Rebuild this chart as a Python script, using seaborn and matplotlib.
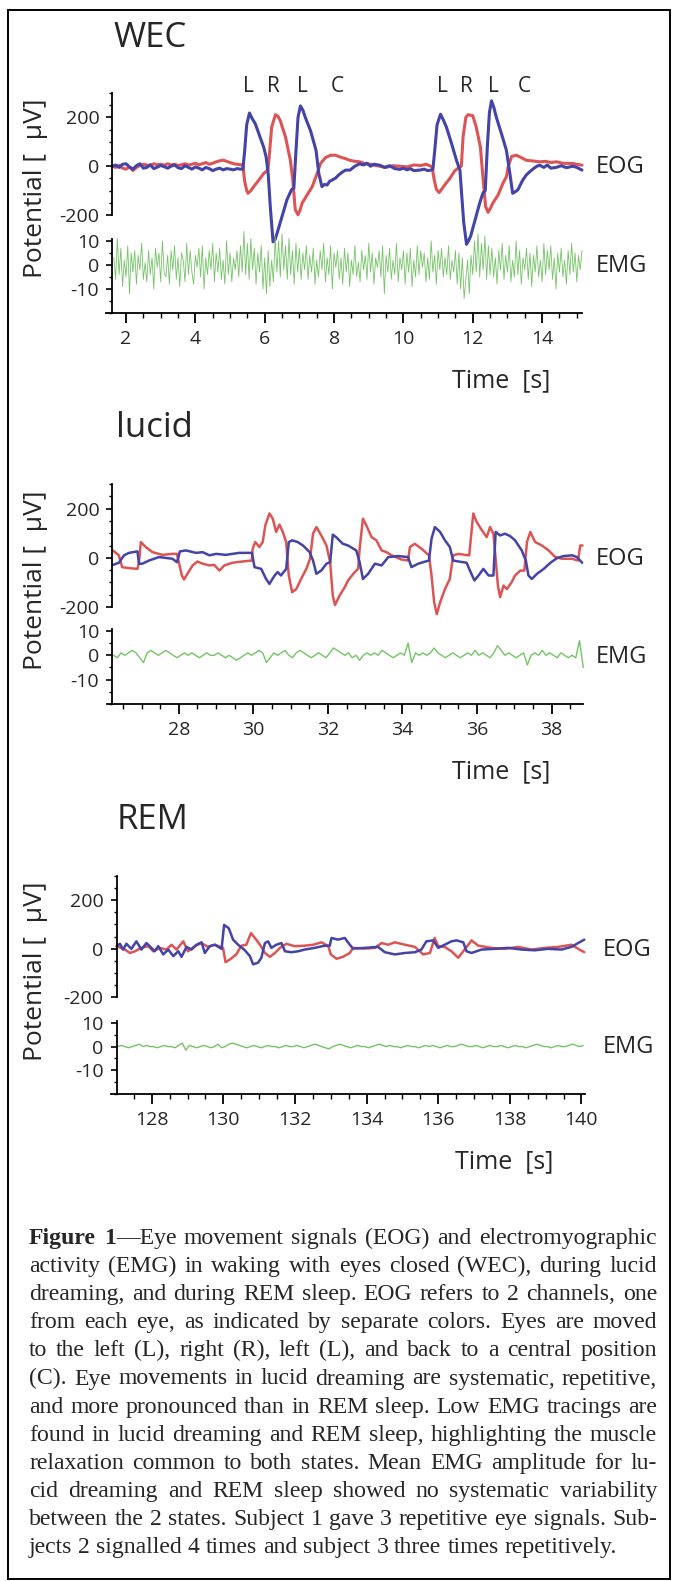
import matplotlib
matplotlib.use("Agg")
import matplotlib.pyplot as plt
from matplotlib.patches import Rectangle
from matplotlib.ticker import MultipleLocator, FixedLocator
import numpy as np
import seaborn as sns

sns.set_style("ticks")
plt.rcParams["font.family"] = ["Open Sans", "DejaVu Sans"]
plt.rcParams["axes.unicode_minus"] = False

RED = "#de5454"
BLUE = "#4343a8"
GREEN = "#74c465"

# ---- WEC (waking, eyes closed): EOG (time s, potential uV) ----
wec_red = [(1.62, 0), (1.7, -5), (1.8, 3), (1.9, -8), (2.0, -12), (2.1, -3), (2.2, -18), (2.3, -5),
           (2.4, 3), (2.5, 8), (2.6, 5), (2.7, 2), (2.8, 10), (2.9, 6), (3.0, 8), (3.1, 4), (3.2, 10),
           (3.3, 5), (3.4, 8), (3.5, 3), (3.6, 6), (3.7, 10), (3.8, 5), (3.9, 8), (4.0, 12), (4.1, 6),
           (4.2, 10), (4.3, 15), (4.4, 8), (4.5, 12), (4.6, 18), (4.7, 22), (4.8, 25), (4.9, 20),
           (5.0, 15), (5.1, 10), (5.2, 8), (5.3, 6),
           (5.37, 5), (5.42, -60), (5.48, -100), (5.52, -111), (5.6, -100), (5.68, -84), (5.83, -57),
           (5.97, -30), (6.09, -16), (6.13, 40), (6.2, 160), (6.31, 211), (6.38, 205), (6.45, 186),
           (6.6, 119), (6.74, 24), (6.81, -57), (6.88, -178), (6.96, -199), (7.02, -180), (7.08, -151),
           (7.22, -118), (7.37, -84), (7.51, -30), (7.61, 11), (7.75, 35), (7.9, 45), (8.04, 45),
           (8.17, 38), (8.33, 31), (8.46, 24), (8.6, 20), (8.74, 18), (8.9, 10), (9.05, 8), (9.2, 3),
           (9.32, 0), (9.5, -5), (9.7, 2), (9.9, 0), (10.1, -3), (10.3, 5), (10.5, 3), (10.66, 8),
           (10.83, -3), (10.88, -50), (10.95, -95), (11.03, -108), (11.1, -95), (11.19, -77),
           (11.34, -50), (11.48, -19), (11.57, -9), (11.67, 0), (11.72, 120), (11.8, 200), (11.86, 211),
           (12.0, 207), (12.1, 160), (12.22, 78), (12.3, -57), (12.37, -165), (12.44, -189), (12.5, -175),
           (12.58, -151), (12.73, -118), (12.87, -70), (12.97, -43), (13.02, -3), (13.12, 40),
           (13.26, 45), (13.4, 35), (13.55, 24), (13.7, 22), (13.93, 18), (14.1, 20), (14.25, 15),
           (14.41, 18), (14.6, 12), (14.89, 11), (15.0, 8), (15.15, 4)]
wec_blue = [(1.62, 0), (1.7, 5), (1.8, -5), (1.9, 8), (2.0, 10), (2.1, -3), (2.2, -12), (2.3, 2),
            (2.4, 10), (2.5, -8), (2.6, -5), (2.7, 6), (2.8, -10), (2.9, -4), (3.0, 3), (3.1, -2),
            (3.2, -8), (3.3, 0), (3.4, 5), (3.5, -6), (3.6, -10), (3.7, 2), (3.8, -5), (3.9, -12),
            (4.0, -3), (4.1, -8), (4.2, -15), (4.3, -5), (4.4, -10), (4.5, -18), (4.6, -12), (4.7, -8),
            (4.8, -15), (4.9, -10), (5.0, -12), (5.1, -15), (5.2, -10), (5.3, -12),
            (5.37, -12), (5.42, 60), (5.48, 170), (5.56, 218), (5.64, 195), (5.73, 173), (5.85, 126),
            (5.97, 78), (6.04, 38), (6.1, -30), (6.16, -165), (6.24, -310), (6.3, -300), (6.36, -273),
            (6.5, -205), (6.64, -138), (6.77, -97), (6.84, -90), (6.9, 60), (6.96, 200), (7.03, 247),
            (7.1, 230), (7.17, 200), (7.32, 146), (7.48, 65), (7.56, -30), (7.65, -84), (7.72, -75),
            (7.8, -77), (7.87, -62), (7.94, -57), (8.05, -48), (8.13, -36), (8.23, -25), (8.33, -16),
            (8.46, -16), (8.6, 0), (8.74, 10), (8.85, 5), (8.95, 12), (9.05, 0), (9.15, 8), (9.32, 4),
            (9.45, -5), (9.6, 2), (9.75, -10), (9.9, -13), (10.0, -8), (10.1, -15), (10.2, -10),
            (10.3, -18), (10.47, -16), (10.6, -12), (10.7, -18), (10.8, -16), (10.85, -12), (10.9, 60),
            (10.97, 170), (11.07, 213), (11.15, 190), (11.24, 160), (11.39, 92), (11.53, 24),
            (11.63, -16), (11.67, -97), (11.74, -232), (11.82, -320), (11.88, -305), (11.94, -286),
            (12.07, -219), (12.2, -151), (12.29, -111), (12.36, -100), (12.42, 80), (12.48, 220),
            (12.54, 268), (12.61, 240), (12.68, 200), (12.83, 132), (12.97, 65), (13.07, -30),
            (13.15, -111), (13.22, -105), (13.3, -97), (13.44, -57), (13.55, -35), (13.64, -23),
            (13.75, -10), (13.85, 0), (13.93, 4), (14.05, -5), (14.15, 5), (14.25, -8), (14.41, -5),
            (14.55, 2), (14.7, -6), (14.89, 0), (15.0, -5), (15.15, -16)]
# EMG samples every 0.05 s from 1.65 s
wec_emg = [3, -6, 11, -4, 7, -9, 2, -5, 8, -12, 5, -3, 6, -8, 4, -2, 9, -6, 1, -7,
           6, -4, 3, -10, 7, -1, 5, -7, 10, -3, -5, 4, -8, 6, -2, 8, -6, 3, -9, 5,
           2, -7, 9, -4, 6, -3, -8, 4, -1, 7, -5, 8, -10, 3, -4, 6, -2, 9, -7, 5,
           -3, 7, -6, 2, -8, 10, -4, 5, -7, 3, -2, 6, -5, 8, -3,
           14, -4, 9, -6, 11, -2, 7, -8, 5, -3, 8, -10, 3, -12, 6, -9, 2, -7, 12, -3,
           10, -5, 13, -2, 8, -6, 11, -4, 6, -8, 9, -3, 7, -6, 5, -2, 8,
           -6, 4, -3, 7, -8, 2, -5, 6, -2, 9, -7, 3, -4, 8, -10, 5, -1, 6, -6, 3,
           -8, 7, -3, 5, -9, 2, -4, 8, -5, 1, -7, 6, -2, 4, -6, 9, -3, 5, -8, 3,
           -1, 6, -5, 8, -12, 4, -3, 7, -6, 2, -4, 9, -7, 3, -2, 6, -8, 5, -3, 7,
           -9, 2, -5, 8, -4, 6, -1, 5, -7, 3, -6, 10, -3, 4, -8, 6, -2, 7, -5, 3,
           -4, 8, -6, 2, -3, 6,
           -8, 5, -10, 3, -14, -6, 2, -12, 4, -4, 10, -3, 13, -5, 9, -2, 12, -6, 8, -4,
           7, -5, 3, -8, 6, -2, 9, -6, 4, -3, 8, -7, 2, -5, 10, -4, 6, -8, 3, -2,
           7, -6, 5, -9, 4, -3, 8, -5, 2, -7, 9, -4, 6, -2, 8, -6, 3, -10, 5, -3,
           7, -5, 2, -8, 6, -4, 9, -3, 5, -7, 4, -2, 6]

# ---- lucid dreaming ----
lucid_red = [(26.23, 30), (26.39, 10), (26.48, -38), (26.66, -42), (26.89, -45), (26.93, -18), (26.98, 64),
             (27.11, 44), (27.29, 23), (27.56, 12), (27.83, 16), (27.95, 16), (28.0, -18), (28.08, -72),
             (28.14, -88), (28.23, -65), (28.37, -31), (28.5, -15), (28.64, -24), (28.82, -31), (28.95, -29),
             (29.09, -52), (29.22, -31), (29.44, -20), (29.71, -15), (29.96, -11), (29.98, 37), (30.05, 64),
             (30.16, 44), (30.25, 64), (30.32, 132), (30.43, 180), (30.52, 159), (30.61, 105), (30.7, 135),
             (30.79, 105), (30.88, 64), (30.95, -72), (31.04, -140), (31.15, -127), (31.28, -86),
             (31.42, -45), (31.52, -4), (31.6, 98), (31.69, 125), (31.82, 91), (31.96, 50), (32.06, -18),
             (32.13, -154), (32.19, -192), (32.31, -154), (32.45, -120), (32.54, -92), (32.72, -58),
             (32.81, -45), (32.85, 37), (32.94, 159), (33.03, 132), (33.17, 84), (33.3, 71), (33.44, 30),
             (33.57, 23), (33.71, 10), (33.97, -7), (34.15, -11), (34.2, 44), (34.33, 57), (34.51, 37),
             (34.71, 10), (34.78, -72), (34.85, -181), (34.92, -229), (35.01, -181), (35.14, -127),
             (35.27, -86), (35.36, 10), (35.5, 16), (35.68, 12), (35.79, 10), (35.86, 118), (35.9, 180),
             (35.99, 146), (36.13, 112), (36.26, 84), (36.35, 125), (36.44, 98), (36.5, -4), (36.56, -113),
             (36.62, -160), (36.71, -113), (36.8, -127), (36.93, -99), (37.02, -72), (37.16, -52),
             (37.27, -52), (37.34, 64), (37.43, 105), (37.56, 64), (37.74, 50), (37.92, 30), (38.1, 3),
             (38.28, -4), (38.55, -4), (38.71, -11), (38.77, 50), (38.83, 50)]
lucid_blue = [(26.23, -29), (26.39, -20), (26.53, 10), (26.66, 20), (26.89, 26), (26.93, -24), (27.02, -24),
              (27.2, -11), (27.47, 3), (27.83, -4), (27.95, -18), (28.03, 26), (28.19, 30), (28.46, 20),
              (28.64, 23), (28.82, 10), (29.0, 16), (29.26, 12), (29.62, 20), (29.96, 20), (30.03, -38),
              (30.21, -45), (30.34, -86), (30.43, -106), (30.57, -72), (30.65, -58), (30.74, -72),
              (30.88, -45), (30.95, 64), (31.04, 71), (31.19, 64), (31.33, 50), (31.51, 23), (31.6, -11),
              (31.69, -65), (31.82, -52), (31.96, -24), (32.06, -18), (32.13, 94), (32.22, 84), (32.4, 57),
              (32.54, 50), (32.76, 30), (32.85, -18), (32.94, -86), (33.08, -65), (33.26, -24), (33.44, -31),
              (33.62, 3), (33.88, 7), (34.15, 3), (34.24, -38), (34.42, -24), (34.71, -11), (34.78, 78),
              (34.87, 125), (35.01, 105), (35.14, 71), (35.27, 44), (35.36, -11), (35.5, -15), (35.72, -20),
              (35.81, -52), (35.93, -92), (36.04, -72), (36.17, -45), (36.31, -72), (36.44, -72),
              (36.5, 105), (36.62, 91), (36.75, 98), (36.89, 88), (37.02, 71), (37.2, 30), (37.31, -11),
              (37.38, -72), (37.47, -86), (37.61, -65), (37.79, -45), (37.97, -20), (38.15, -1), (38.32, 7),
              (38.55, 10), (38.68, 3), (38.82, -20)]
# EMG samples every 0.1 s from 26.25 s
lucid_emg = [0, -1, 1, 0, 1, 2, 1, -1, -3, 1, 2, 1, 0, 1, 2, 1, 0, -1, 0, 1,
             0, 1, 0, -1, 0, 1, 0, 0, 1, 0, -1, 0, -1, -2, -1, 0, 1, 0, 1, 2,
             1, -3, -1, 1, 0, 1, 2, 0, -1, 1, 2, 1, 0, -1, 0, 1, 0, -1, 1, 3,
             2, 1, 0, 1, -1, 0, -2, 0, 1, 0, 1, 0, 2, 1, 0, -1, 0, 1, 0, 5,
             -3, 1, 0, 1, 0, 1, 3, 1, 0, -1, 0, 1, 0, -1, 0, 1, 0, 2, 0, 1,
             0, -1, 1, 4, 2, 0, 1, 0, -1, 0, 1, -4, 0, 1, 0, 2, 0, 1, 0, -1,
             1, 0, -1, 0, -1, 6, -5]

# ---- REM sleep ----
rem_red = [(127.02, 10), (127.25, -4), (127.39, -18), (127.53, -11), (127.71, 3), (127.9, 10), (128.04, -11),
           (128.22, 3), (128.41, -4), (128.55, 16), (128.69, -4), (128.88, 30), (129.01, -11), (129.2, 10),
           (129.39, 23), (129.57, 7), (129.76, 16), (129.99, 3), (130.06, -56), (130.18, -45), (130.36, -24),
           (130.5, 12), (130.64, 16), (130.77, 64), (130.88, 44), (131.02, 16), (131.16, -18), (131.3, -34),
           (131.44, -18), (131.58, 3), (131.76, 20), (131.99, 10), (132.27, 12), (132.51, 16), (132.74, 26),
           (132.93, 10), (133.0, -24), (133.16, -42), (133.34, -34), (133.53, -18), (133.62, 3), (133.95, 0),
           (134.23, 3), (134.42, 23), (134.6, 16), (134.79, 26), (135.07, 16), (135.35, 7), (135.58, -24),
           (135.77, -18), (135.9, 44), (136.0, 10), (136.18, 7), (136.37, -11), (136.56, -38), (136.7, -11),
           (136.84, 16), (136.93, 34), (137.12, 12), (137.49, 3), (137.86, -1), (138.23, 7), (138.61, -4),
           (138.98, 3), (139.35, 7), (139.72, 16), (139.91, -1), (140.08, -15)]
rem_blue = [(127.02, 10), (127.11, 20), (127.2, -4), (127.29, 20), (127.43, -1), (127.57, 30), (127.71, -4),
            (127.85, 23), (127.99, 3), (128.08, -11), (128.18, 10), (128.32, -24), (128.46, -4), (128.6, -31),
            (128.74, -11), (128.83, -34), (128.97, 7), (129.11, -4), (129.25, 16), (129.39, 26), (129.48, -18),
            (129.62, 10), (129.76, 16), (129.95, -1), (130.02, 98), (130.15, 84), (130.27, 37), (130.41, 16),
            (130.58, -4), (130.74, -31), (130.83, -65), (130.97, -58), (131.06, -38), (131.16, 23),
            (131.25, 30), (131.34, 3), (131.48, 16), (131.62, 23), (131.72, -11), (131.9, -15), (132.09, -11),
            (132.27, -4), (132.55, 3), (132.83, 12), (132.97, 12), (133.02, 44), (133.2, 37), (133.39, 44),
            (133.53, 16), (133.62, 0), (133.95, 3), (134.32, 7), (134.51, -15), (134.79, -24), (135.07, -18),
            (135.35, -15), (135.53, -4), (135.67, 30), (135.86, 34), (136.0, 3), (136.18, 16), (136.37, 30),
            (136.51, 34), (136.7, 26), (136.79, -11), (136.93, -18), (137.21, -4), (137.58, -1), (137.95, 3),
            (138.33, -4), (138.7, -7), (139.07, -1), (139.44, -4), (139.72, 7), (139.91, 23), (140.08, 37)]
# EMG samples every 0.1 s from 127.05 s
rem_emg = [0, 0.5, 0, -0.5, 0, 0.5, 1, 0, 0.5, 0, 0, -0.5, 0, 0.5, 0, 0, -0.5, 0.5, 1.5, -1.5,
           0.5, 0, -0.5, 0, 0.5, 0, -0.5, 0, 1, -0.5, 0, 1, 1.5, 1, 0.5, 0, -0.5, 0, 0.5, 0,
           -0.5, 0, 0.5, 0, 0, -0.5, 0, 0.5, 0, 0, 0.5, 0, -0.5, 0, 0.5, 1, 0.5, 0, -0.5, -1,
           0, 0.5, 1, 0.5, 0, -0.5, 0, 0.5, 0, 0, -0.5, 0, 0.5, 1, 0.5, 0, 0.5, 0, 0, -0.5,
           0, 0.5, 0, 0, -0.5, 0, 0.5, 0, 0.5, 0, -0.5, 0, 0.5, 0, 0, 0.5, 1, 0.5, 0, 0,
           0.5, 0, -0.5, 0, 0.5, 0, 0, 0.5, 0, -0.5, 0, 0.5, 0, 0, -0.5, 0, 0.5, 1, 0.5, 0,
           0, -0.5, 0, 0.5, 0, 0, 0.5, 1, 0.5, 0, 0.5]

wec_marks = [(5.54, "L"), (6.25, "R"), (7.08, "L"), (8.09, "C"),
             (11.13, "L"), (11.82, "R"), (12.6, "L"), (13.5, "C")]

caption = [
    "Figure 1—Eye movement signals (EOG) and electromyographic",
    "activity (EMG) in waking with eyes closed (WEC), during lucid",
    "dreaming, and during REM sleep. EOG refers to 2 channels, one",
    "from each eye, as indicated by separate colors. Eyes are moved",
    "to the left (L), right (R), left (L), and back to a central position",
    "(C). Eye movements in lucid dreaming are systematic, repetitive,",
    "and more pronounced than in REM sleep. Low EMG tracings are",
    "found in lucid dreaming and REM sleep, highlighting the muscle",
    "relaxation common to both states. Mean EMG amplitude for lu-",
    "cid dreaming and REM sleep showed no systematic variability",
    "between the 2 states. Subject 1 gave 3 repetitive eye signals. Sub-",
    "jects 2 signalled 4 times and subject 3 three times repetitively.",
]

W, H = 673, 1581
fig = plt.figure(figsize=(W / 100, H / 100), dpi=100)


def box(l, t, r, b):
    return [l / W, 1 - b / H, (r - l) / W, (b - t) / H]


def ftext(x, y, s, **kw):
    return fig.text(x / W, 1 - y / H, s, **kw)


panels = [
    dict(title="WEC", title_x=113, title_y=47, eog=(112.5, 93, 582, 215), emg=(112.5, 239, 582, 313),
         xlim=(1.61, 15.15), red=wec_red, blue=wec_blue, emg_v=wec_emg, emg_t0=1.65, emg_dt=0.05,
         eog_lw=2.2, emg_lw=0.6, ylab_y=188, time_xy=(452, 387), lab_x=596, eog_y=173, emg_y=272),
    dict(title="lucid", title_x=116, title_y=437, eog=(112.5, 484, 582.5, 607), emg=(112.5, 629, 582.5, 704),
         xlim=(26.22, 38.83), red=lucid_red, blue=lucid_blue, emg_v=lucid_emg, emg_t0=26.25, emg_dt=0.1,
         eog_lw=1.8, emg_lw=1.0, ylab_y=580, time_xy=(452, 778), lab_x=596, eog_y=565, emg_y=663),
    dict(title="REM", title_x=117, title_y=829, eog=(116.7, 876, 585, 997), emg=(116.7, 1021, 585, 1094),
         xlim=(127.02, 140.1), red=rem_red, blue=rem_blue, emg_v=rem_emg, emg_t0=127.05, emg_dt=0.1,
         eog_lw=1.8, emg_lw=1.0, ylab_y=971, time_xy=(455, 1168), lab_x=603, eog_y=956, emg_y=1053),
]

for p in panels:
    ax1 = fig.add_axes(box(*p["eog"]))
    ax2 = fig.add_axes(box(*p["emg"]))
    rt, rv = zip(*p["red"])
    bt, bv = zip(*p["blue"])
    sns.lineplot(x=list(rt), y=list(rv), ax=ax1, color=RED, lw=p["eog_lw"], sort=False, estimator=None)
    sns.lineplot(x=list(bt), y=list(bv), ax=ax1, color=BLUE, lw=p["eog_lw"], sort=False, estimator=None)
    et = p["emg_t0"] + p["emg_dt"] * np.arange(len(p["emg_v"]))
    sns.lineplot(x=et, y=p["emg_v"], ax=ax2, color=GREEN, lw=p["emg_lw"], sort=False, estimator=None)
    for ax in (ax1, ax2):
        for ln in ax.lines:
            ln.set_clip_on(False)
        ax.set_xlim(*p["xlim"])
        ax.set_xlabel("")
        ax.set_ylabel("")
        ax.patch.set_alpha(0)
        for s in ("top", "right"):
            ax.spines[s].set_visible(False)
        for s in ("left", "bottom"):
            ax.spines[s].set_linewidth(1.3)
            ax.spines[s].set_color("black")
        ax.tick_params(axis="y", which="major", length=4.5, width=1.2, pad=5, labelsize=14, color="black")
        ax.tick_params(axis="y", which="minor", length=2.5, width=1.0, color="black")
    ax1.spines["bottom"].set_visible(False)
    ax1.tick_params(axis="x", which="both", bottom=False, labelbottom=False)
    ax1.set_ylim(-200, 300)
    ax1.yaxis.set_major_locator(FixedLocator([-200, 0, 200]))
    ax1.yaxis.set_minor_locator(MultipleLocator(50))
    ax2.set_ylim(-20, 10.8)
    ax2.yaxis.set_major_locator(FixedLocator([-10, 0, 10]))
    ax2.yaxis.set_minor_locator(MultipleLocator(5))
    ax2.xaxis.set_major_locator(MultipleLocator(2))
    ax2.xaxis.set_minor_locator(MultipleLocator(0.5))
    ax2.tick_params(axis="x", which="major", length=7.5, width=1.3, pad=5, labelsize=14, color="black")
    ax2.tick_params(axis="x", which="minor", length=3.5, width=1.0, color="black")
    x0, x1 = p["xlim"]
    ext = 6 * (x1 - x0) / (p["emg"][2] - p["emg"][0])
    ax2.spines["bottom"].set_bounds(x0 - ext, x1)

    ftext(p["title_x"], p["title_y"], p["title"], fontsize=25, ha="left", va="baseline")
    ftext(36, p["ylab_y"], "Potential [  µV]", fontsize=19, rotation=90, ha="center", va="center")
    ftext(p["time_xy"][0], p["time_xy"][1], "Time  [s]", fontsize=18, ha="left", va="baseline")
    ftext(p["lab_x"], p["eog_y"], "EOG", fontsize=17, ha="left", va="baseline")
    ftext(p["lab_x"], p["emg_y"], "EMG", fontsize=17, ha="left", va="baseline")

    if p["title"] == "WEC":
        for t, m in wec_marks:
            ax1.text(t, 305, m, fontsize=15, ha="center", va="baseline", clip_on=False)

# caption, justified between x=29 and x=657
renderer = fig.canvas.get_renderer()
CAP_FONT = "Liberation Serif"
left, right = 29, 657


def tw(s, size, weight="normal"):
    t = fig.text(0, 0, s, fontsize=size, fontweight=weight, family=CAP_FONT)
    w = t.get_window_extent(renderer=renderer).width
    t.remove()
    return w


lines = []
for i, line in enumerate(caption):
    words = []
    for j, w in enumerate(line.split(" ")):
        if i == 0 and j == 0:
            words.append([(w, "bold")])
        elif i == 0 and j == 1:
            words.append([("1", "bold"), (w[1:], "normal")])
        else:
            words.append([(w, "normal")])
    lines.append(words)

ref = 10
space_ref = tw("a a", ref) - tw("aa", ref)
fits = []
for words in lines[:-1]:
    nat = sum(tw(s, ref, wt) for wd in words for s, wt in wd) + space_ref * (len(words) - 1)
    fits.append((right - left) / nat)
cap_size = ref * min(fits) * 0.995
space = space_ref * cap_size / ref

for i, words in enumerate(lines):
    widths = [[tw(s, cap_size, wt) for s, wt in wd] for wd in words]
    total = sum(sum(w) for w in widths)
    if i < len(lines) - 1:
        gap = (right - left - total) / (len(words) - 1)
    else:
        gap = space
    x = left
    y = 1244 + 28.1 * i
    for wd, ws in zip(words, widths):
        for (s, wt), w in zip(wd, ws):
            ftext(x, y, s, fontsize=cap_size, fontweight=wt, family=CAP_FONT, ha="left", va="baseline")
            x += w
        x += gap

fig.add_artist(Rectangle((8 / W, 1 - 1579 / H), (670 - 8) / W, (1579 - 10) / H, transform=fig.transFigure,
                         fill=False, lw=1.4, edgecolor="black"))

fig.savefig("out.png", dpi=100)
